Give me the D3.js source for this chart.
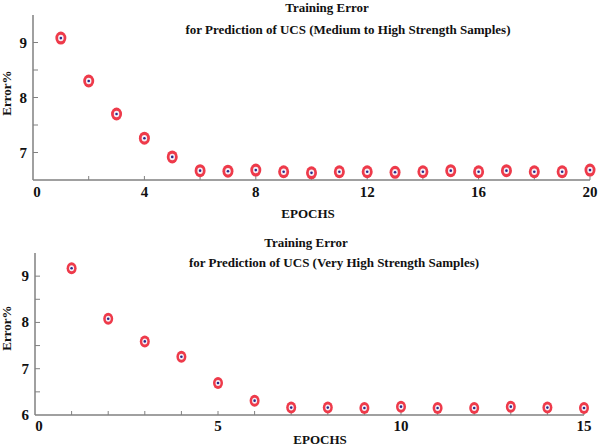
<!DOCTYPE html>
<html><head><meta charset="utf-8">
<script src="https://cdn.jsdelivr.net/npm/d3@7"></script>
<style>
body{margin:0;background:#fff;}
svg{display:block;}
text{font-family:"Liberation Serif","Times New Roman",serif;font-weight:bold;fill:#111;}
</style></head>
<body>
<svg id="c" width="600" height="446"></svg>
<script>
// ---- Data ----
const epochsA = [1,2,3,4,5,6,7,8,9,10,11,12,13,14,15,16,17,18,19,20];
const errorA  = [9.08,8.30,7.70,7.26,6.92,6.67,6.66,6.68,6.65,6.63,6.65,6.65,6.64,6.65,6.67,6.65,6.67,6.65,6.65,6.68];
const xTicksA = [0,4,8,12,16,20];
const yTicksA = [7,8,9];

const epochsB = [1,2,3,4,5,6,7,8,9,10,11,12,13,14,15];
const errorB  = [9.17,8.08,7.59,7.26,6.69,6.31,6.16,6.16,6.15,6.18,6.15,6.15,6.18,6.16,6.15];
const xTicksB = [0,5,10,15];
const yTicksB = [6,7,8,9];

const titleLine1 = "Training Error";
const titleA = "for Prediction of UCS (Medium to  High Strength Samples)";
const titleB = "for Prediction of UCS (Very High Strength Samples)";
const xLabel = "EPOCHS";
const yLabel = "Error%";

const svg = d3.select("#c");

function panel(cfg){
  const g = svg.append("g");
  const x = d3.scaleLinear().domain(cfg.xDom).range(cfg.xRange);
  const y = d3.scaleLinear().domain(cfg.yDom).range(cfg.yRange);
  const axisCol = "#808080";
  // axes lines
  g.append("line").attr("x1",x(cfg.xDom[0])).attr("x2",x(cfg.xDom[1]))
    .attr("y1",y(cfg.yDom[0])).attr("y2",y(cfg.yDom[0])).attr("stroke",axisCol).attr("stroke-width",1.5);
  g.append("line").attr("x1",x(cfg.xDom[0])).attr("x2",x(cfg.xDom[0]))
    .attr("y1",y(cfg.yDom[0])).attr("y2",y(cfg.yDom[1])).attr("stroke",axisCol).attr("stroke-width",1.5);
  // y ticks (inward)
  const yt = d3.range(Math.ceil(cfg.yDom[0]*2)/2, cfg.yDom[1]+0.001, 0.5).filter(v=>v>cfg.yDom[0]+0.01 && v<cfg.yDom[1]-0.01);
  g.selectAll(".yt").data(yt).join("line")
    .attr("x1",x(cfg.xDom[0])).attr("x2",x(cfg.xDom[0])+5)
    .attr("y1",d=>y(d)).attr("y2",d=>y(d)).attr("stroke",axisCol).attr("stroke-width",1);
  // x ticks (inward)
  const xt = d3.range(cfg.xDom[0]+cfg.xMinor, cfg.xDom[1]+0.001, cfg.xMinor);
  g.selectAll(".xt").data(xt).join("line")
    .attr("x1",d=>x(d)).attr("x2",d=>x(d))
    .attr("y1",y(cfg.yDom[0])).attr("y2",y(cfg.yDom[0])-4).attr("stroke",axisCol).attr("stroke-width",1);
  // y tick labels
  g.selectAll(".yl").data(cfg.yTicks).join("text")
    .attr("x",x(cfg.xDom[0])-6).attr("y",d=>y(d)+cfg.yLabOff)
    .attr("text-anchor","end").attr("font-size",15).text(d=>d);
  // x tick labels
  g.selectAll(".xl").data(cfg.xTicks).join("text")
    .attr("x",d=>x(d)+(d===0?4:0)).attr("y",y(cfg.yDom[0])+cfg.xLabDy)
    .attr("text-anchor","middle").attr("font-size",15).text(d=>d);
  // titles
  g.append("text").attr("x",cfg.t1x).attr("y",cfg.t1y).attr("text-anchor","middle").attr("font-size",13).text(titleLine1);
  g.append("text").attr("x",cfg.t2x).attr("y",cfg.t2y).attr("text-anchor","middle").attr("font-size",13).text(cfg.title);
  // axis labels
  g.append("text").attr("x",cfg.xlx).attr("y",cfg.xly).attr("text-anchor","middle").attr("font-size",13).text(xLabel);
  g.append("text").attr("transform",`translate(${cfg.ylx},${cfg.yly}) rotate(-90)`)
    .attr("text-anchor","middle").attr("font-size",13).text(yLabel);
  // markers
  const pts = cfg.xs.map((d,i)=>({x:d,y:cfg.ys[i]}));
  const m = g.selectAll(".m").data(pts).join("g").attr("transform",d=>`translate(${x(d.x)},${y(d.y)})`);
  m.append("ellipse").attr("rx",cfg.rx).attr("ry",cfg.ry).attr("fill","#ee3a4a");
  m.append("ellipse").attr("rx",cfg.rx*0.5).attr("ry",cfg.ry*0.5).attr("fill","#f4f0f6");
  m.append("circle").attr("r",1.3).attr("fill","#2a2a8a");
}

panel({xDom:[0,20], yDom:[6.5,9.5], xRange:[33,590], yRange:[180,15],
  xs:epochsA, ys:errorA, xTicks:xTicksA, yTicks:yTicksA, xMinor:2, yLabOff:5, xLabDy:17,
  t1x:327, t1y:12, t2x:348, t2y:34, title:titleA, xlx:308, xly:218, ylx:11, yly:93, rx:5.5, ry:6.5});

panel({xDom:[0,15], yDom:[6,9.5], xRange:[35,584], yRange:[415,253],
  xs:epochsB, ys:errorB, xTicks:xTicksB, yTicks:yTicksB, xMinor:1, yLabOff:5, xLabDy:16,
  t1x:306, t1y:247, t2x:334, t2y:267, title:titleB, xlx:320, xly:444, ylx:11, yly:328, rx:5, ry:6});
</script>
</body></html>
